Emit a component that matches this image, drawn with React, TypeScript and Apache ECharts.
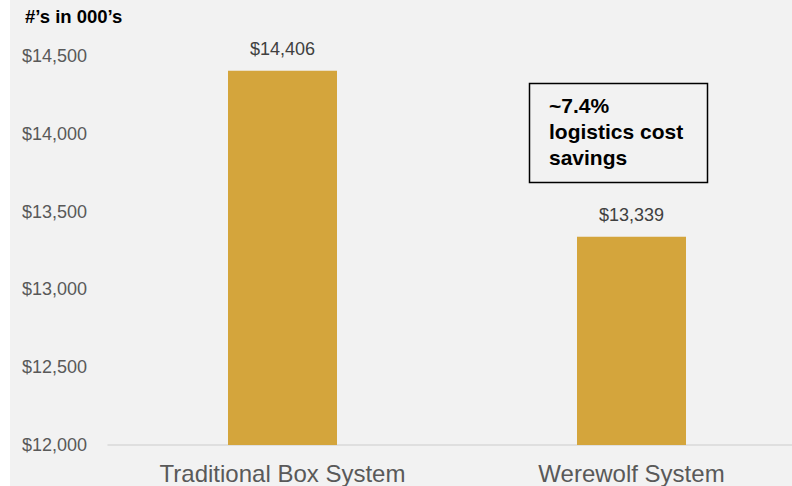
import React, { useEffect, useRef } from "react";
import * as echarts from "echarts";

const categories = ["Traditional Box System", "Werewolf System"];
const values = [14406, 13339];
const yMin = 12000;
const yMax = 14500;
const yInterval = 500;
const unitTitle = "#’s in 000’s";
const noteLines = ["~7.4%", "logistics cost", "savings"];

const fmt = (v: number) => "$" + v.toLocaleString("en-US");
const FF = "'Liberation Sans', Arial, sans-serif";

export default function App() {
  const ref = useRef<HTMLDivElement>(null);
  useEffect(() => {
    document.body.style.margin = "0";
    document.body.style.overflow = "hidden";
    const chart = echarts.init(ref.current!, null, { renderer: "svg" });
    chart.setOption({
      animation: false,
      backgroundColor: "#ffffff",
      textStyle: { fontFamily: FF },
      graphic: [
        { type: "rect", z: -10, shape: { x: 10, y: 0, width: 800, height: 486 }, style: { fill: "#f2f2f2" } },
        {
          type: "text",
          left: 25,
          top: 7,
          style: { text: unitTitle, font: "bold 18.5px " + FF, fill: "#000000" },
        },
        {
          type: "rect",
          shape: { x: 529.5, y: 83.5, width: 178, height: 99 },
          style: { fill: "none", stroke: "#000000", lineWidth: 1.5 },
        },
        {
          type: "text",
          left: 549,
          top: 92,
          style: {
            text: noteLines.join("\n"),
            font: "bold 21px " + FF,
            lineHeight: 26,
            fill: "#000000",
          },
        },
      ],
      grid: { left: 108, right: 0, top: 56, bottom: 41, containLabel: false },
      xAxis: {
        type: "category",
        data: categories,
        axisLine: { show: true, lineStyle: { color: "#d9d9d9", width: 1.5 } },
        axisTick: { show: false },
        axisLabel: { color: "#595959", fontSize: 24, fontFamily: FF, margin: 16 },
      },
      yAxis: {
        type: "value",
        min: yMin,
        max: yMax,
        interval: yInterval,
        axisLine: { show: false },
        axisTick: { show: false },
        splitLine: { show: false },
        axisLabel: { color: "#595959", fontSize: 18, fontFamily: FF, margin: 21, formatter: (v: number) => fmt(v) },
      },
      series: [
        {
          type: "bar",
          data: values,
          barWidth: 109,
          itemStyle: { color: "#d4a53c" },
          label: {
            show: true,
            position: "top",
            distance: 13,
            color: "#404040",
            fontSize: 18,
            fontFamily: FF,
            formatter: (p: any) => fmt(p.value),
          },
        },
      ],
    });
    return () => chart.dispose();
  }, []);
  return (
    <div style={{ width: 792, height: 486, overflow: "hidden", position: "relative" }}>
      <div ref={ref} style={{ width: 806, height: 486 }} />
    </div>
  );
}
